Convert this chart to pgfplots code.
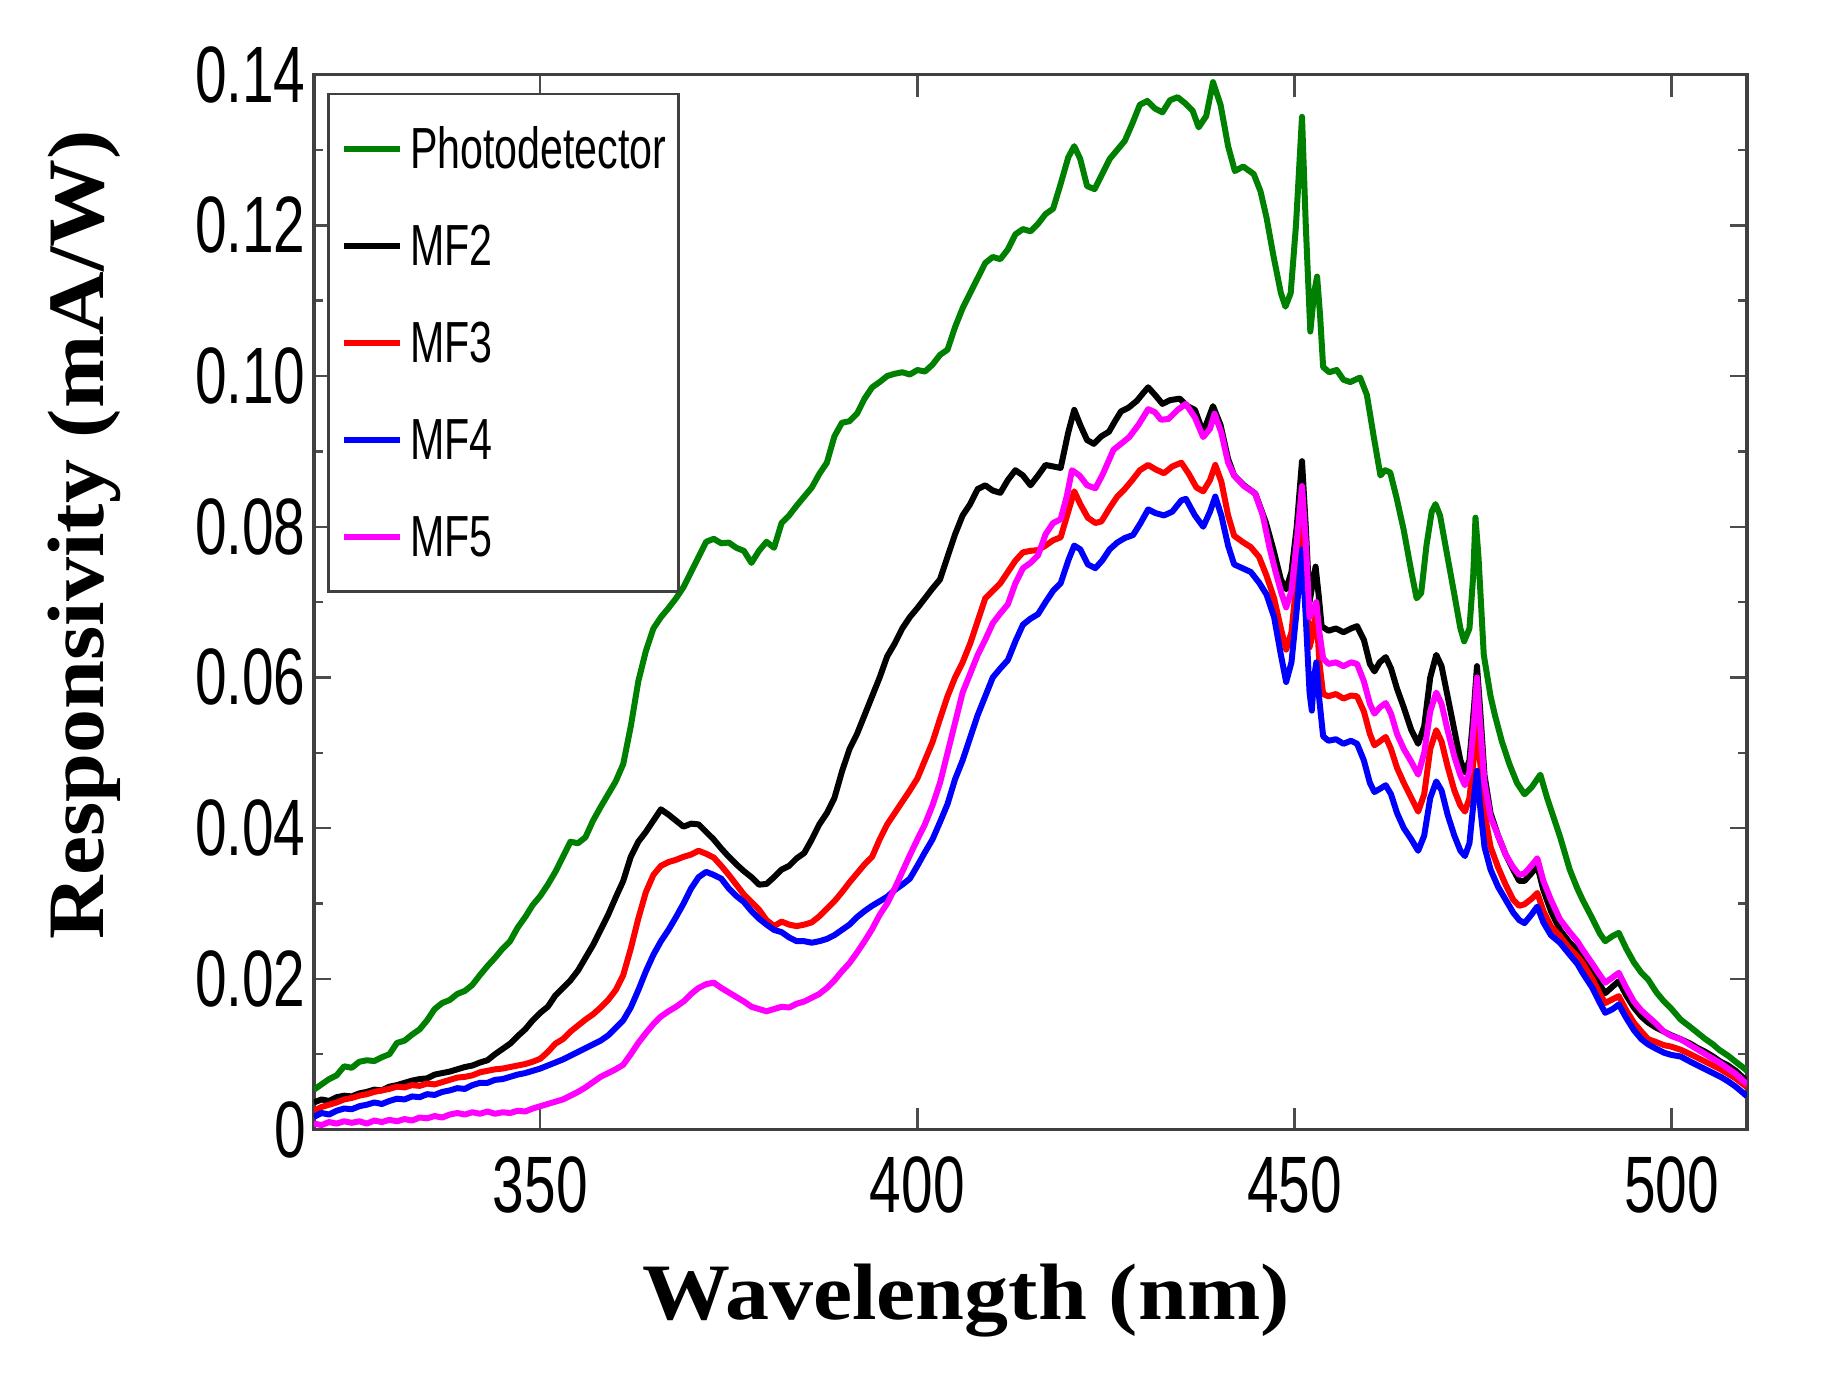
\documentclass[border=0pt]{standalone}
\usepackage{fontspec}
\setmainfont{Liberation Serif}
\newfontfamily\tickfont[FakeStretch=0.71]{Liberation Sans}
\newfontfamily\labelfont[FakeStretch=1.1]{Liberation Serif}
\usepackage{pgfplots}
\pgfplotsset{compat=1.18}
\definecolor{mgreen}{RGB}{0,128,0}
\definecolor{mblack}{RGB}{0,0,0}
\definecolor{mred}{RGB}{255,0,0}
\definecolor{mblue}{RGB}{0,0,255}
\definecolor{mmagenta}{RGB}{255,0,255}

\begin{document}
\begin{tikzpicture}
\begin{axis}[
    at={(0,0)}, anchor=south west,
    scale only axis,
    width=358.25pt, height=263.75pt,
    xmin=320, xmax=510, ymin=0, ymax=0.14,
    xtick={350,400,450,500},
    xticklabels={350,400,450,500},
    ytick={0,0.02,0.04,0.06,0.08,0.10,0.12,0.14},
    yticklabels={0,0.02,0.04,0.06,0.08,0.10,0.12,0.14},
    minor ytick={0.01,0.03,0.05,0.07,0.09,0.11,0.13},
    tick align=inside,
    tick pos=both,
    xtick style={black!70, line width=0.6pt, /pgfplots/major tick length=5.5pt},
    ytick style={black!70, line width=0.6pt, /pgfplots/major tick length=4.2pt},
    minor tick length=2.3pt,
    axis line style={black!75, line width=0.8pt},
    ticklabel style={font=\tickfont\fontsize{20}{20}\selectfont},
    xticklabel style={anchor=north, inner sep=0pt, yshift=-6.5pt},
    yticklabel style={anchor=east, inner sep=0pt, xshift=-1.9pt},
    xlabel={Wavelength (nm)},
    ylabel={Responsivity (mA/W)},
    label style={font=\labelfont\bfseries\fontsize{20}{20}\selectfont},
    xlabel style={at={(rel axis cs:0.455,-0.1797)}, anchor=base},
    ylabel style={at={(rel axis cs:-0.147,0.564)}, anchor=base, rotate=0},
    legend cell align=left,
    legend style={at={(rel axis cs:0.0094,0.983)}, anchor=north west,
        draw=black!75, line width=0.7pt,
        inner xsep=3.1pt, inner ysep=8.85pt,
        row sep=14.55pt, column sep=1.7pt,
        font=\tickfont\fontsize{14.5}{14.5}\selectfont,
        nodes={inner sep=0pt, text height=9.7pt, text depth=0pt}},
    legend image code/.code={\draw[#1, line width=1.5pt] (0pt,0pt) -- (14pt,0pt);},
    every axis plot/.append style={line width=1.5pt, line join=round},
]
% Photodetector
\addplot[mgreen] coordinates {
(320,0.0053) (321,0.0060) (322,0.0067) (323,0.0072) (324,0.0084) (325,0.0082)
(326,0.0090) (327,0.0092) (328,0.0091) (329,0.0096) (330,0.0100) (331,0.0115)
(332,0.0118) (333,0.0126) (334,0.0133) (335,0.0145) (336,0.0160) (337,0.0168)
(338,0.0172) (339,0.0180) (340,0.0184) (341,0.0192) (342,0.0205) (343,0.0217)
(344,0.0228) (345,0.0240) (346,0.0250) (347,0.0268) (348,0.0282) (349,0.0298)
(350,0.0310) (351,0.0325) (352,0.0342) (353,0.0362) (354,0.0382) (355,0.0380)
(356,0.0388) (357,0.0410) (358,0.0428) (359,0.0445) (360,0.0462) (361,0.0485)
(362,0.0535) (363,0.0595) (364,0.0635) (365,0.0665) (366,0.0680) (367,0.0692)
(368,0.0705) (369,0.0720) (370,0.0740) (371,0.0760) (372,0.0780) (373,0.0784)
(374,0.0778) (375,0.0779) (376,0.0772) (377,0.0768) (378,0.0752) (379,0.0768)
(380,0.0780) (381,0.0772) (382,0.0805) (383,0.0815) (384,0.0828) (385,0.0840)
(386,0.0852) (387,0.0870) (388,0.0885) (389,0.0920) (390,0.0938) (391,0.0940)
(392,0.0950) (393,0.0970) (394,0.0985) (395,0.0992) (396,0.1000) (397,0.1003)
(398,0.1005) (399,0.1002) (400,0.1008) (401,0.1006) (402,0.1015) (403,0.1028)
(404,0.1035) (405,0.1065) (406,0.1090) (407,0.1110) (408,0.1130) (409,0.1150)
(410,0.1158) (411,0.1155) (412,0.1168) (413,0.1188) (414,0.1195) (415,0.1192)
(416,0.1202) (417,0.1215) (418,0.1222) (419,0.1255) (420,0.1290) (420.8,0.1305)
(421.6,0.1288) (422.5,0.1252) (423.5,0.1248) (424.5,0.1268) (425.5,0.1288)
(426.5,0.1300) (427.5,0.1312) (428.5,0.1335) (429.5,0.1360) (430.5,0.1365)
(431.5,0.1355) (432.5,0.1350) (433.5,0.1366) (434.5,0.1370) (435.5,0.1362)
(436.5,0.1352) (437.3,0.1330) (438.3,0.1345) (439.2,0.1390) (440.2,0.1360)
(441.2,0.1305) (442.1,0.1272) (443.2,0.1278) (444.6,0.1268) (445.5,0.1245)
(446.3,0.1210) (447.2,0.1160) (448.2,0.1110) (448.8,0.1092) (449.5,0.1110)
(450.2,0.1200) (451.0,0.1344) (451.5,0.1200) (452.1,0.1059) (452.6,0.1110)
(453.0,0.1132) (453.4,0.1080) (453.8,0.1012) (454.6,0.1005) (455.6,0.1008)
(456.5,0.0995) (457.4,0.0992) (458.7,0.0998) (459.6,0.0975) (460.5,0.0920)
(461.4,0.0868) (462.0,0.0875) (462.7,0.0872) (463.5,0.0840) (464.5,0.0795)
(465.5,0.0740) (466.2,0.0705) (466.8,0.0712) (467.5,0.0775) (468.2,0.0820)
(468.7,0.0830) (469.3,0.0815) (470.2,0.0765) (471.2,0.0710) (472.0,0.0665)
(472.5,0.0648) (473.2,0.0665) (473.7,0.0735) (474.0,0.0812) (474.4,0.0760)
(475.1,0.0630) (476.0,0.0575) (476.6,0.0549) (477.5,0.0515) (478.5,0.0485)
(479.5,0.0460) (480.5,0.0445) (481.5,0.0455) (482.6,0.0471) (483.5,0.0440)
(484.5,0.0410) (485.2,0.0389) (486.5,0.0345) (487.5,0.0320) (488.2,0.0305)
(489.5,0.0280) (490.5,0.0260) (491.2,0.0250) (492.2,0.0257) (493.0,0.0261)
(494.0,0.0240) (495.0,0.0222) (496.0,0.0208) (496.9,0.0199) (498.0,0.0182)
(499.0,0.0170) (500.0,0.0160) (501.2,0.0146) (502.5,0.0136) (503.5,0.0128)
(504.5,0.0120) (505.5,0.0113) (506.3,0.0106) (507.5,0.0098) (508.5,0.0090)
(509.8,0.0080) (510,0.0078)
};
% MF2
\addplot[mblack] coordinates {
(320,0.0036) (321,0.0040) (322,0.0038) (323,0.0043) (324,0.0045) (325,0.0044)
(326,0.0048) (327,0.0050) (328,0.0053) (329,0.0052) (330,0.0057) (331,0.0059)
(332,0.0062) (333,0.0065) (334,0.0067) (335,0.0068) (336,0.0073) (337,0.0075)
(338,0.0077) (339,0.0080) (340,0.0083) (341,0.0085) (342,0.0089) (343,0.0092)
(344,0.0100) (345,0.0107) (346,0.0114) (347,0.0124) (348,0.0133) (349,0.0145)
(350,0.0155) (351,0.0163) (352,0.0178) (353,0.0188) (354,0.0198) (355,0.0211)
(356,0.0228) (357,0.0245) (358,0.0265) (359,0.0285) (360,0.0308) (361,0.0330)
(362,0.0362) (363,0.0382) (364,0.0395) (365,0.0410) (366,0.0425) (367,0.0418)
(368,0.0410) (369,0.0402) (370,0.0406) (371,0.0405) (372,0.0395) (373,0.0385)
(374,0.0373) (375,0.0362) (376,0.0352) (377,0.0343) (378,0.0335) (379,0.0325)
(380,0.0326) (381,0.0335) (382,0.0345) (383,0.0350) (384,0.0360) (385,0.0367)
(386,0.0385) (387,0.0405) (388,0.0420) (389,0.0440) (390,0.0475) (391,0.0505)
(392,0.0525) (393,0.0550) (394,0.0575) (395,0.0600) (396,0.0628) (397,0.0645)
(398,0.0665) (399,0.0680) (400,0.0692) (401,0.0705) (402,0.0718) (403,0.0730)
(404,0.0760) (405,0.0790) (406,0.0815) (407,0.0830) (408,0.0850) (409,0.0855)
(410,0.0848) (411,0.0845) (412,0.0862) (413,0.0875) (414,0.0868) (415,0.0855)
(416,0.0868) (417,0.0882) (418,0.0880) (419,0.0878) (420,0.0925) (420.8,0.0955)
(421.6,0.0935) (422.5,0.0915) (423.4,0.0910) (424.4,0.0920) (425.4,0.0926)
(426.2,0.0940) (427,0.0953) (428,0.0958) (429.1,0.0967) (430,0.0978)
(430.6,0.0985) (431.5,0.0975) (432.5,0.0963) (433.5,0.0968) (434.8,0.0970)
(435.8,0.0960) (436.8,0.0955) (437.9,0.0925) (439.2,0.0960) (440.2,0.0935)
(441.2,0.0890) (442.0,0.0868) (443.3,0.0855) (444.8,0.0844) (446.2,0.0806)
(447.2,0.0770) (448.2,0.0730) (448.9,0.0717) (449.6,0.0740) (450.3,0.0800)
(451.0,0.0887) (451.5,0.0800) (452.0,0.0700) (452.5,0.0730) (452.8,0.0747)
(453.2,0.0710) (453.6,0.0668) (454.5,0.0662) (455.5,0.0665) (456.5,0.0660)
(457.5,0.0665) (458.3,0.0668) (459.2,0.0650) (460.0,0.0618) (460.6,0.0608)
(461.3,0.0620) (462.1,0.0627) (462.8,0.0612) (463.6,0.0585) (464.5,0.0560)
(465.5,0.0530) (466.4,0.0512) (467.2,0.0535) (468.0,0.0600) (468.8,0.0630)
(469.5,0.0615) (470.3,0.0575) (471.2,0.0530) (472.0,0.0490) (472.6,0.0474)
(473.2,0.0490) (473.8,0.0560) (474.2,0.0615) (474.6,0.0560) (475.2,0.0470)
(476.0,0.0420) (477.0,0.0390) (478.0,0.0365) (479.0,0.0345) (479.8,0.0330)
(480.5,0.0330) (481.4,0.0340) (482.2,0.0350) (483.0,0.0318) (484.0,0.0290)
(485.2,0.0265) (486.5,0.0248) (487.5,0.0238) (488.2,0.0230) (489.5,0.0208)
(490.5,0.0192) (491.2,0.0181) (492.2,0.0190) (493.0,0.0197) (494.0,0.0178)
(495.0,0.0162) (496.0,0.0150) (496.9,0.0142) (498.0,0.0135) (499.0,0.0130)
(500.0,0.0125) (501.2,0.0120) (502.5,0.0114) (503.5,0.0108) (504.5,0.0103)
(505.5,0.0097) (506.5,0.0090) (507.5,0.0085) (508.5,0.0078) (509.8,0.0066)
(510,0.0064)
};
% MF3
\addplot[mred] coordinates {
(320,0.0025) (321,0.0030) (322,0.0033) (323,0.0036) (324,0.0040) (325,0.0042)
(326,0.0045) (327,0.0047) (328,0.0050) (329,0.0052) (330,0.0054) (331,0.0057)
(332,0.0056) (333,0.0059) (334,0.0058) (335,0.0061) (336,0.0060) (337,0.0063)
(338,0.0066) (339,0.0069) (340,0.0070) (341,0.0072) (342,0.0076) (343,0.0078)
(344,0.0080) (345,0.0081) (346,0.0083) (347,0.0085) (348,0.0087) (349,0.0090)
(350,0.0094) (351,0.0103) (352,0.0114) (353,0.0120) (354,0.0130) (355,0.0138)
(356,0.0146) (357,0.0153) (358,0.0162) (359,0.0172) (360,0.0185) (361,0.0205)
(362,0.0240) (363,0.0280) (364,0.0315) (365,0.0338) (366,0.0350) (367,0.0355)
(368,0.0358) (369,0.0362) (370,0.0365) (371,0.0370) (372,0.0366) (373,0.0361)
(374,0.0350) (375,0.0338) (376,0.0325) (377,0.0312) (378,0.0302) (379,0.0292)
(380,0.0278) (381,0.0270) (382,0.0276) (383,0.0272) (384,0.0270) (385,0.0272)
(386,0.0275) (387,0.0283) (388,0.0293) (389,0.0303) (390,0.0315) (391,0.0328)
(392,0.0340) (393,0.0352) (394,0.0362) (395,0.0385) (396,0.0405) (397,0.0420)
(398,0.0435) (399,0.0450) (400,0.0466) (401,0.0490) (402,0.0514) (403,0.0545)
(404,0.0575) (405,0.0600) (406,0.0620) (407,0.0645) (408,0.0675) (409,0.0705)
(410,0.0715) (411,0.0725) (412,0.0740) (413,0.0755) (414,0.0766) (415,0.0768)
(416,0.0769) (417,0.0775) (418,0.0782) (419,0.0786) (420,0.0820) (420.8,0.0847)
(421.6,0.0830) (422.6,0.0812) (423.6,0.0805) (424.4,0.0807) (425.5,0.0825)
(426.5,0.0840) (427.5,0.0850) (428.5,0.0862) (429.5,0.0875) (430.6,0.0882)
(431.6,0.0876) (432.7,0.0871) (433.8,0.0880) (435.0,0.0885) (436.0,0.0870)
(437.0,0.0852) (437.9,0.0847) (438.8,0.0862) (439.5,0.0882) (440.3,0.0860)
(441.2,0.0815) (442.0,0.0788) (443.1,0.0780) (444.2,0.0773) (445.3,0.0760)
(446.3,0.0735) (447.3,0.0705) (448.2,0.0665) (448.9,0.0637) (449.6,0.0660)
(450.3,0.0730) (451.0,0.0820) (451.5,0.0740) (452.0,0.0640) (452.5,0.0660)
(452.9,0.0690) (453.3,0.0620) (453.8,0.0578) (454.5,0.0575) (455.5,0.0578)
(456.5,0.0572) (457.5,0.0576) (458.3,0.0575) (459.2,0.0555) (460.0,0.0525)
(460.6,0.0510) (461.3,0.0515) (462.1,0.0521) (462.8,0.0505) (463.6,0.0480)
(464.5,0.0460) (465.5,0.0440) (466.4,0.0422) (467.2,0.0445) (468.0,0.0505)
(468.8,0.0530) (469.5,0.0515) (470.3,0.0482) (471.2,0.0450) (472.0,0.0430)
(472.6,0.0422) (473.2,0.0440) (473.8,0.0495) (474.2,0.0540) (474.6,0.0490)
(475.2,0.0420) (476.0,0.0375) (477.0,0.0348) (478.0,0.0325) (479.0,0.0305)
(479.8,0.0297) (480.5,0.0299) (481.4,0.0306) (482.2,0.0314) (483.0,0.0290)
(484.0,0.0270) (485.2,0.0257) (486.5,0.0240) (487.5,0.0230) (488.2,0.0221)
(489.5,0.0200) (490.5,0.0180) (491.2,0.0168) (492.2,0.0173) (493.0,0.0177)
(494.0,0.0158) (495.0,0.0142) (496.0,0.0130) (496.9,0.0120) (498.0,0.0116)
(499.0,0.0112) (500.0,0.0110) (501.2,0.0106) (502.5,0.0100) (503.5,0.0095)
(504.5,0.0090) (505.5,0.0085) (506.5,0.0080) (507.5,0.0074) (508.5,0.0068)
(509.8,0.0058) (510,0.0056)
};
% MF4
\addplot[mblue] coordinates {
(320,0.0017) (321,0.0022) (322,0.0020) (323,0.0025) (324,0.0028) (325,0.0027)
(326,0.0031) (327,0.0033) (328,0.0036) (329,0.0034) (330,0.0038) (331,0.0041)
(332,0.0040) (333,0.0044) (334,0.0043) (335,0.0047) (336,0.0046) (337,0.0050)
(338,0.0052) (339,0.0055) (340,0.0054) (341,0.0059) (342,0.0062) (343,0.0062)
(344,0.0066) (345,0.0067) (346,0.0070) (347,0.0073) (348,0.0075) (349,0.0078)
(350,0.0081) (351,0.0085) (352,0.0089) (353,0.0093) (354,0.0098) (355,0.0103)
(356,0.0108) (357,0.0113) (358,0.0118) (359,0.0125) (360,0.0135) (361,0.0145)
(362,0.0162) (363,0.0185) (364,0.0210) (365,0.0232) (366,0.0250) (367,0.0265)
(368,0.0282) (369,0.0300) (370,0.0320) (371,0.0335) (372,0.0342) (373,0.0338)
(374,0.0333) (375,0.0320) (376,0.0310) (377,0.0302) (378,0.0290) (379,0.0280)
(380,0.0272) (381,0.0265) (382,0.0262) (383,0.0255) (384,0.0250) (385,0.0250)
(386,0.0248) (387,0.0250) (388,0.0253) (389,0.0258) (390,0.0265) (391,0.0272)
(392,0.0282) (393,0.0290) (394,0.0297) (395,0.0303) (396,0.0309) (397,0.0318)
(398,0.0325) (399,0.0333) (400,0.0350) (401,0.0368) (402,0.0385) (403,0.0408)
(404,0.0432) (405,0.0465) (406,0.0490) (407,0.0520) (408,0.0550) (409,0.0575)
(410,0.0600) (411,0.0612) (412,0.0623) (413,0.0648) (414,0.0670) (415,0.0678)
(416,0.0684) (417,0.0700) (418,0.0715) (419,0.0725) (420,0.0755) (420.8,0.0775)
(421.6,0.0770) (422.6,0.0750) (423.6,0.0745) (424.5,0.0755) (425.5,0.0770)
(426.5,0.0779) (427.5,0.0785) (428.6,0.0789) (429.6,0.0805) (430.6,0.0823)
(431.6,0.0818) (432.7,0.0815) (433.8,0.0820) (435.0,0.0835) (435.6,0.0837)
(436.8,0.0815) (437.9,0.0800) (438.8,0.0820) (439.5,0.0840) (440.3,0.0815)
(441.2,0.0775) (442.0,0.0750) (443.1,0.0745) (444.2,0.0740) (445.3,0.0726)
(446.3,0.0710) (447.3,0.0680) (448.2,0.0630) (448.9,0.0594) (449.6,0.0620)
(450.3,0.0690) (451.0,0.0770) (451.5,0.0680) (452.0,0.0580) (452.3,0.0556)
(452.6,0.0600) (452.9,0.0620) (453.3,0.0570) (453.8,0.0522) (454.5,0.0516)
(455.5,0.0518) (456.5,0.0512) (457.5,0.0516) (458.3,0.0512) (459.2,0.0490)
(460.0,0.0460) (460.6,0.0448) (461.3,0.0452) (462.1,0.0457) (462.8,0.0445)
(463.6,0.0420) (464.5,0.0400) (465.5,0.0385) (466.4,0.0370) (467.2,0.0390)
(468.0,0.0440) (468.8,0.0462) (469.5,0.0450) (470.3,0.0418) (471.2,0.0390)
(472.0,0.0370) (472.6,0.0363) (473.2,0.0380) (473.8,0.0440) (474.2,0.0476)
(474.6,0.0430) (475.2,0.0375) (476.0,0.0345) (477.0,0.0322) (478.0,0.0305)
(479.0,0.0288) (479.8,0.0278) (480.5,0.0274) (481.4,0.0285) (482.2,0.0296)
(483.0,0.0275) (484.0,0.0258) (485.2,0.0248) (486.5,0.0232) (487.5,0.0220)
(488.2,0.0208) (489.5,0.0188) (490.5,0.0168) (491.2,0.0155) (492.2,0.0160)
(493.0,0.0166) (494.0,0.0148) (495.0,0.0132) (496.0,0.0120) (496.9,0.0113)
(498.0,0.0107) (499.0,0.0102) (500.0,0.0099) (501.2,0.0097) (502.5,0.0090)
(503.5,0.0085) (504.5,0.0080) (505.5,0.0075) (506.5,0.0070) (507.5,0.0064)
(508.5,0.0057) (509.8,0.0046) (510,0.0044)
};
% MF5
\addplot[mmagenta] coordinates {
(320,0.0008) (321,0.0006) (322,0.0010) (323,0.0008) (324,0.0011) (325,0.0009)
(326,0.0011) (327,0.0008) (328,0.0012) (329,0.0010) (330,0.0013) (331,0.0011)
(332,0.0014) (333,0.0012) (334,0.0016) (335,0.0015) (336,0.0018) (337,0.0016)
(338,0.0020) (339,0.0022) (340,0.0020) (341,0.0023) (342,0.0021) (343,0.0024)
(344,0.0021) (345,0.0023) (346,0.0022) (347,0.0025) (348,0.0024) (349,0.0028)
(350,0.0031) (351,0.0034) (352,0.0037) (353,0.0040) (354,0.0045) (355,0.0050)
(356,0.0056) (357,0.0063) (358,0.0070) (359,0.0075) (360,0.0080) (361,0.0086)
(362,0.0100) (363,0.0115) (364,0.0128) (365,0.0140) (366,0.0150) (367,0.0157)
(368,0.0163) (369,0.0170) (370,0.0180) (371,0.0188) (372,0.0193) (373,0.0195)
(374,0.0188) (375,0.0182) (376,0.0176) (377,0.0170) (378,0.0163) (379,0.0160)
(380,0.0157) (381,0.0160) (382,0.0163) (383,0.0162) (384,0.0167) (385,0.0170)
(386,0.0175) (387,0.0180) (388,0.0188) (389,0.0198) (390,0.0210) (391,0.0221)
(392,0.0235) (393,0.0250) (394,0.0266) (395,0.0285) (396,0.0300) (397,0.0320)
(398,0.0342) (399,0.0364) (400,0.0385) (401,0.0405) (402,0.0430) (403,0.0460)
(404,0.0500) (405,0.0540) (406,0.0580) (407,0.0605) (408,0.0630) (409,0.0650)
(410,0.0672) (411,0.0685) (412,0.0697) (413,0.0725) (414,0.0745) (415,0.0752)
(416,0.0762) (417,0.0790) (418,0.0805) (419,0.0810) (419.8,0.0840) (420.5,0.0875)
(421.5,0.0868) (422.5,0.0855) (423.6,0.0851) (424.6,0.0870) (426,0.0902)
(427,0.0910) (428.1,0.0919) (429.3,0.0935) (430.6,0.0956) (431.5,0.0952)
(432.3,0.0942) (433.3,0.0943) (434.5,0.0955) (435.6,0.0963) (436.8,0.0945)
(437.9,0.0919) (438.8,0.0930) (439.4,0.0950) (440.3,0.0925) (441.2,0.0885)
(442.0,0.0868) (443.3,0.0854) (444.8,0.0844) (445.8,0.0815) (446.7,0.0772)
(447.5,0.0740) (448.3,0.0711) (448.9,0.0693) (449.6,0.0715) (450.3,0.0780)
(451.0,0.0854) (451.5,0.0780) (452.0,0.0680) (452.5,0.0690) (452.9,0.0700)
(453.3,0.0660) (453.8,0.0625) (454.5,0.0618) (455.5,0.0620) (456.5,0.0615)
(457.5,0.0620) (458.3,0.0618) (459.2,0.0595) (460.0,0.0565) (460.6,0.0552)
(461.3,0.0560) (462.1,0.0566) (462.8,0.0552) (463.6,0.0525) (464.5,0.0505)
(465.5,0.0488) (466.4,0.0471) (467.2,0.0500) (468.0,0.0555) (468.8,0.0580)
(469.5,0.0565) (470.3,0.0530) (471.2,0.0495) (472.0,0.0470) (472.6,0.0457)
(473.2,0.0475) (473.8,0.0540) (474.2,0.0600) (474.6,0.0540) (475.2,0.0460)
(476.0,0.0415) (477.0,0.0390) (478.0,0.0365) (479.0,0.0348) (479.8,0.0338)
(480.5,0.0340) (481.4,0.0350) (482.2,0.0360) (483.0,0.0330) (484.0,0.0305)
(485.2,0.0279) (486.5,0.0262) (487.5,0.0250) (488.2,0.0239) (489.5,0.0220)
(490.5,0.0205) (491.2,0.0195) (492.2,0.0202) (493.0,0.0208) (494.0,0.0188)
(495.0,0.0170) (496.0,0.0158) (496.9,0.0150) (498.0,0.0140) (499.0,0.0130)
(500.0,0.0124) (501.2,0.0120) (502.5,0.0112) (503.5,0.0106) (504.5,0.0100)
(505.5,0.0094) (506.5,0.0088) (507.5,0.0081) (508.5,0.0074) (509.8,0.0062)
(510,0.0060)
};
\legend{Photodetector,MF2,MF3,MF4,MF5}
\end{axis}
\pgfresetboundingbox
\useasboundingbox (-78.5pt,-62.85pt) rectangle (377pt,282.4pt);
\end{tikzpicture}
\end{document}
